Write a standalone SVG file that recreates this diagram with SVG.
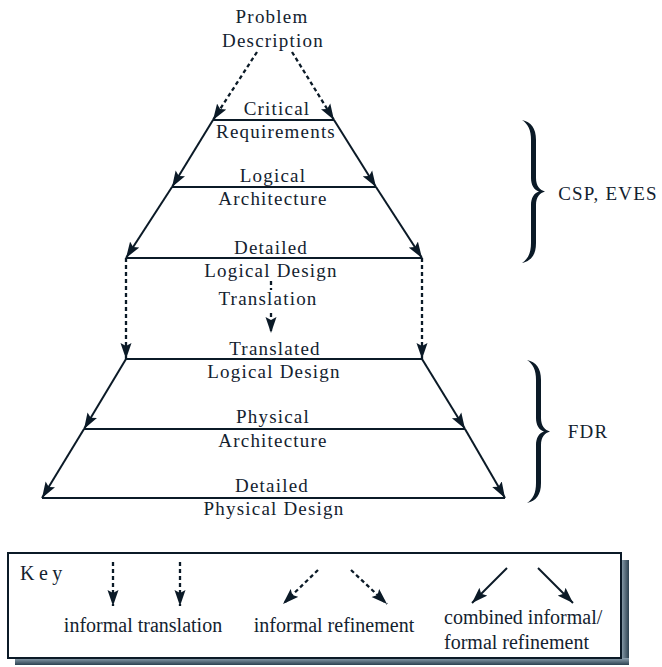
<svg xmlns="http://www.w3.org/2000/svg" width="662" height="667" viewBox="0 0 662 667">
  <style>
    .lbl { font-family: "Liberation Serif", "Times New Roman", serif; font-size: 19px; letter-spacing: 1.2px; fill: #13222f; text-anchor: middle; }
    .key { font-family: "Liberation Serif", "Times New Roman", serif; font-size: 20px; fill: #13222f; }
    .level { stroke: #0b1a27; stroke-width: 2; fill: none; }
    .solid { stroke: #0b1a27; stroke-width: 2; fill: none; marker-end: url(#head); }
    .dash { stroke: #0b1a27; stroke-width: 2.3; fill: none; stroke-dasharray: 4 3; marker-end: url(#head); }
    .brace { fill: #0b1a27; }
  </style>
  <defs>
    <marker id="head" viewBox="-16 -6 17 12" refX="0" refY="0" markerWidth="17" markerHeight="12" markerUnits="userSpaceOnUse" orient="auto">
      <path d="M0,0 L-16,-5.5 L-13,0 L-16,5.5 Z" fill="#0b1a27"/>
    </marker>
    <!-- curly brace, 23 wide, 143 tall, pointing right -->
    <path id="brace" d="M0,0 C9,2 14,8 14,20 L14,58 C14,66 18,70 23,71.5 C18,73 14,77 14,85 L14,123 C14,135 9,141 0,143 C6,139 9,133 9,123 L9,85 C9,78 12,73 17,71.5 C12,70 9,65 9,58 L9,20 C9,10 6,4 0,0 Z"/>
    <!-- bevelled drop shadow of the legend box -->
    <linearGradient id="shadeR" x1="0" y1="0" x2="1" y2="0">
      <stop offset="0" stop-color="#8ea2b0"/>
      <stop offset="1" stop-color="#2c4150"/>
    </linearGradient>
    <linearGradient id="shadeB" x1="0" y1="0" x2="0" y2="1">
      <stop offset="0" stop-color="#8ea2b0"/>
      <stop offset="1" stop-color="#2c4150"/>
    </linearGradient>
  </defs>

  <rect width="662" height="667" fill="#ffffff"/>

  <!-- refinement levels -->
  <g id="problem-description">
    <text class="lbl" x="272" y="23">Problem</text>
    <text class="lbl" x="273" y="47">Description</text>
  </g>
  <g id="critical-requirements">
    <line class="level" x1="213" y1="120" x2="334" y2="120"/>
    <text class="lbl" x="277" y="115">Critical</text>
    <text class="lbl" x="276" y="138">Requirements</text>
  </g>
  <g id="logical-architecture">
    <line class="level" x1="172" y1="187" x2="376" y2="187"/>
    <text class="lbl" x="273" y="182">Logical</text>
    <text class="lbl" x="273" y="205">Architecture</text>
  </g>
  <g id="detailed-logical-design">
    <line class="level" x1="126" y1="258" x2="422" y2="258"/>
    <text class="lbl" x="271" y="254">Detailed</text>
    <text class="lbl" x="271" y="277">Logical Design</text>
  </g>
  <g id="translated-logical-design">
    <line class="level" x1="126" y1="359" x2="422" y2="359"/>
    <text class="lbl" x="275" y="355">Translated</text>
    <text class="lbl" x="274" y="378">Logical Design</text>
  </g>
  <g id="physical-architecture">
    <line class="level" x1="84" y1="429" x2="465" y2="429"/>
    <text class="lbl" x="273" y="423">Physical</text>
    <text class="lbl" x="273" y="447">Architecture</text>
  </g>
  <g id="detailed-physical-design">
    <line class="level" x1="42" y1="498" x2="505" y2="498"/>
    <text class="lbl" x="272" y="492">Detailed</text>
    <text class="lbl" x="274" y="515">Physical Design</text>
  </g>

  <!-- connectors -->
  <g id="connectors">
    <path class="dash" d="M257,52 L213,120"/>
    <path class="dash" d="M292,52 L334,120"/>
    <path class="solid" d="M213,120 L172,187"/>
    <path class="solid" d="M334,120 L376,187"/>
    <path class="solid" d="M172,187 L126,258"/>
    <path class="solid" d="M376,187 L422,258"/>
    <path class="dash" d="M126,258 L126,359"/>
    <path class="dash" d="M422,258 L422,359"/>
    <path class="dash" d="M271,281 L271,290 M271,313 L271,333"/>
    <text class="lbl" x="268" y="305">Translation</text>
    <path class="solid" d="M126,359 L84,429"/>
    <path class="solid" d="M422,359 L465,429"/>
    <path class="solid" d="M84,429 L42,498"/>
    <path class="solid" d="M465,429 L505,498"/>
  </g>

  <!-- tool groupings -->
  <g id="csp-eves">
    <use href="#brace" class="brace" x="522" y="120"/>
    <text class="lbl" x="608" y="200">CSP, EVES</text>
  </g>
  <g id="fdr">
    <use href="#brace" class="brace" x="527" y="360"/>
    <text class="lbl" x="588" y="438">FDR</text>
  </g>

  <!-- legend -->
  <g id="key">
    <rect x="621" y="560" width="8" height="105" fill="url(#shadeR)"/>
    <rect x="15" y="658" width="614" height="7" fill="url(#shadeB)"/>
    <rect x="8" y="553" width="613" height="105" fill="#ffffff" stroke="#0b1a27" stroke-width="2"/>
    <text class="key" x="20" y="580" font-size="26" letter-spacing="4.5">Key</text>
    <path class="dash" d="M113,562 L113,606"/>
    <path class="dash" d="M180,562 L180,606"/>
    <path class="dash" d="M318,570 L283,604"/>
    <path class="dash" d="M351,570 L387,604"/>
    <path class="solid" d="M507,568 L472,603"/>
    <path class="solid" d="M538,568 L573,603"/>
    <text class="key" x="143" y="632" text-anchor="middle">informal translation</text>
    <text class="key" x="334" y="632" text-anchor="middle">informal refinement</text>
    <text class="key" x="444" y="624">combined informal/</text>
    <text class="key" x="444" y="649">formal refinement</text>
  </g>
</svg>
